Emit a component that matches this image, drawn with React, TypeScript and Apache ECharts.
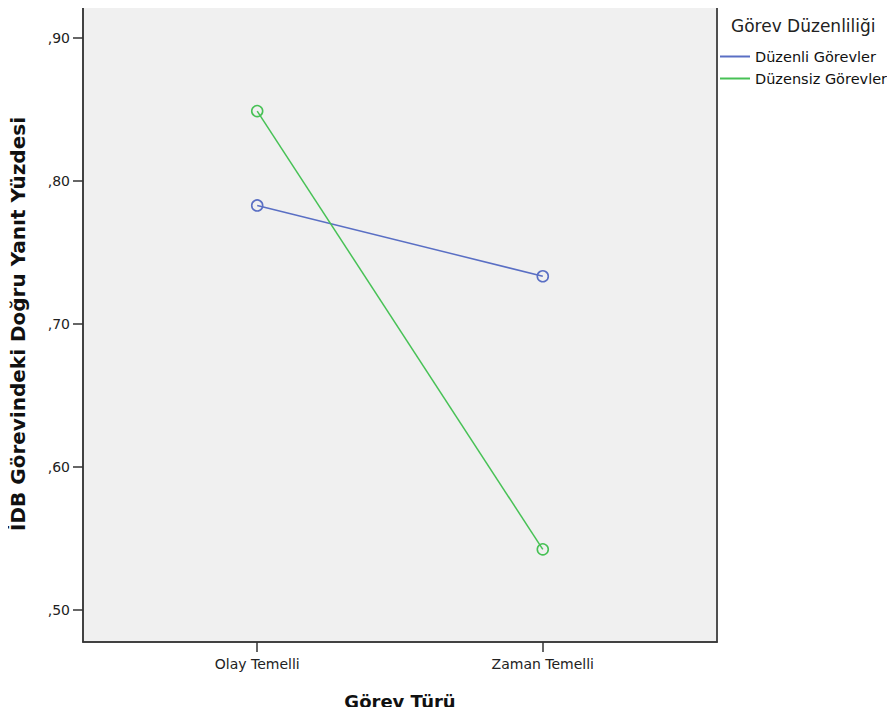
import React, { useEffect, useRef } from "react";
import * as echarts from "echarts";

const categories = ["Olay Temelli", "Zaman Temelli"];
const seriesNames = ["Düzenli Görevler", "Düzensiz Görevler"];
const duzenliValues = [0.783, 0.7335];
const duzensizValues = [0.849, 0.5425];
const yTicks = [0.5, 0.6, 0.7, 0.8, 0.9];
const colors = ["#5a6fc4", "#47c155"];

const FONT = "'DejaVu Sans', Verdana, sans-serif";

export default function App() {
  const ref = useRef<HTMLDivElement>(null);
  useEffect(() => {
    if (!ref.current) return;
    const chart = echarts.init(ref.current, undefined, { renderer: "svg" });
    const toPoints = (vals: number[]) => vals.map((v, i) => [i, v]);
    const makeSeries = (name: string, vals: number[], color: string) => ({
      name,
      type: "line",
      data: toPoints(vals),
      symbol: "circle",
      symbolSize: 11,
      color,
      lineStyle: { width: 1.5, color },
      itemStyle: { color: "rgba(0,0,0,0)", borderColor: color, borderWidth: 1.6 },
    });
    const frameAxis = {
      type: "value",
      show: true,
      splitLine: { show: false },
      axisTick: { show: false },
      axisLabel: { show: false },
      axisLine: { show: true, onZero: false, lineStyle: { color: "#444", width: 1.5 } },
    };
    chart.setOption({
      animation: false,
      textStyle: { fontFamily: FONT },
      grid: {
        left: 83,
        top: 6,
        right: 178,
        bottom: 71,
        show: true,
        backgroundColor: "#f0f0f0",
        borderColor: "#444",
        borderWidth: 1.5,
      },
      title: {
        text: "Görev Düzenliliği",
        left: 731,
        top: 17,
        padding: 0,
        textStyle: { fontFamily: FONT, fontSize: 17, fontWeight: "normal", color: "#222" },
      },
      legend: {
        orient: "vertical",
        left: 720,
        top: 49,
        padding: 0,
        itemWidth: 30,
        itemHeight: 2,
        itemGap: 7,
        icon: "rect",
        data: seriesNames.map((name, i) => ({ name, itemStyle: { color: colors[i], borderWidth: 0 } })),
        textStyle: { fontFamily: FONT, fontSize: 14.5, color: "#111" },
      },
      xAxis: [
        {
          type: "value",
          min: -0.61,
          max: 1.61,
          name: "Görev Türü",
          nameLocation: "middle",
          nameGap: 50,
          nameTextStyle: { fontFamily: FONT, fontSize: 18, fontWeight: "bold", color: "#111" },
          splitLine: { show: false },
          axisLine: { show: true, onZero: false, lineStyle: { color: "#333", width: 1.5 } },
          axisTick: { show: true, length: 10, customValues: [0, 1], lineStyle: { color: "#333", width: 1.5 } },
          axisLabel: {
            customValues: [0, 1],
            margin: 15,
            fontSize: 14,
            color: "#222",
            formatter: (v: number) => categories[Math.round(v)] ?? "",
          },
        },
        { ...frameAxis, position: "top", min: -0.61, max: 1.61 },
      ],
      yAxis: [
        {
          type: "value",
          min: 0.4777,
          max: 0.9225,
          name: "İDB Görevindeki Doğru Yanıt Yüzdesi",
          nameLocation: "middle",
          nameRotate: 90,
          nameGap: 55,
          nameTextStyle: { fontFamily: FONT, fontSize: 20, fontWeight: "bold", color: "#111" },
          splitLine: { show: false },
          axisLine: { show: true, onZero: false, lineStyle: { color: "#333", width: 1.5 } },
          axisTick: { show: true, length: 10, customValues: yTicks, lineStyle: { color: "#333", width: 1.5 } },
          axisLabel: {
            customValues: yTicks,
            margin: 13,
            fontSize: 14,
            color: "#222",
            formatter: (v: number) => v.toFixed(2).replace(/^0\./, ","),
          },
        },
        { ...frameAxis, position: "right", min: 0.4777, max: 0.9225 },
      ],
      series: [
        makeSeries(seriesNames[0], duzenliValues, colors[0]),
        makeSeries(seriesNames[1], duzensizValues, colors[1]),
      ],
    });
    return () => chart.dispose();
  }, []);
  return <div ref={ref} style={{ width: 895, height: 715, margin: -8 }} />;
}
